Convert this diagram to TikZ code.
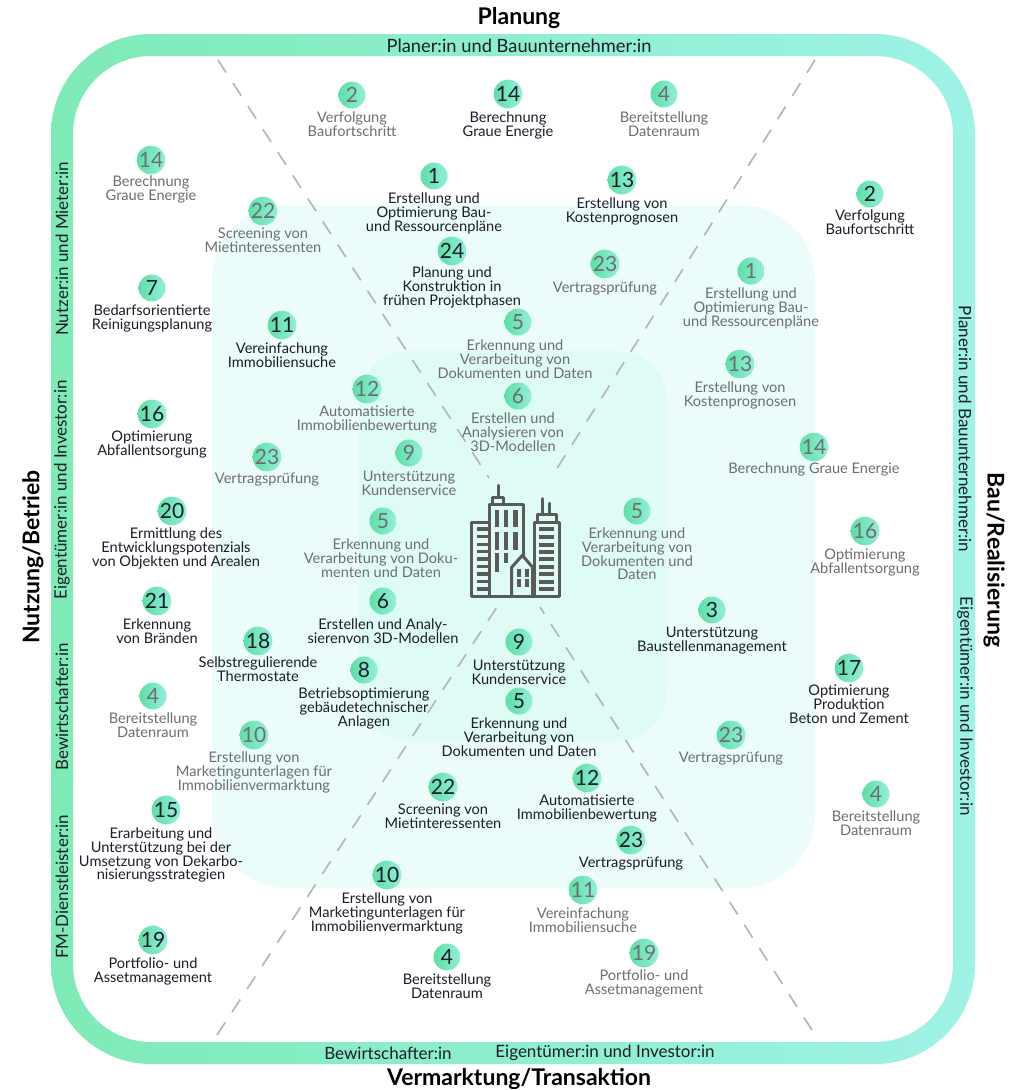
\documentclass[tikz,border=0pt]{standalone}
\usepackage{fontspec}
\setmainfont{Lato}
\definecolor{inkon}{HTML}{1C1C2A}
\definecolor{inkoff}{HTML}{6E6E72}
\definecolor{bandL}{HTML}{7EEBB6}
\definecolor{bandR}{HTML}{9EF2E6}
\definecolor{discL}{HTML}{5FDEA6}
\definecolor{discR}{HTML}{92EFDA}
\definecolor{midbox}{HTML}{ECFCFA}
\definecolor{corebox}{HTML}{DFFBF5}
\definecolor{icon}{HTML}{5A5A5A}
\definecolor{dashc}{HTML}{B4B4B4}
\tikzset{
  disc/.style={circle,minimum size=27pt,inner sep=0pt,left color=discL,right color=discR,font=\fontsize{21}{21}\selectfont},
  captxt/.style={anchor=north,align=center,inner sep=0pt,font=\fontsize{14.6}{13.6}\selectfont},
  lit/.style={text=inkon},
  dim/.style={text=inkoff},
  bandtext/.style={text=inkon,inner sep=0pt,font=\fontsize{17}{17}\selectfont},
  sidetitle/.style={text=black,inner sep=0pt,font=\bfseries\fontsize{23}{23}\selectfont},
  divider/.style={dashc,line width=1.6pt,dash pattern=on 15pt off 12.5pt},
  bld/.style={icon,line width=3pt,line join=round,line cap=round},
  bldw/.style={fill=icon,draw=none},
}
% name, x, y, number, lit/dim, first-line y, text
\newcommand{\ent}[7]{%
  \node[disc,#5] (d#1) at (#2,#3) {#4};
  \node[captxt,#5] (t#1) at (#2,#6-5) {#7};
}
% name, x, y, number, lit/dim, caption x, first-line y, text
\newcommand{\entat}[8]{%
  \node[disc,#5] (d#1) at (#2,#3) {#4};
  \node[captxt,#5] (t#1) at (#6,#7-5) {#8};
}
\begin{document}
\begin{tikzpicture}[x=1pt,y=-1pt]
\useasboundingbox (0,0) rectangle (1015,1090);
\fill[white] (0,0) rectangle (1015,1090);
% boxes
\fill[midbox,rounded corners=75pt] (212,205) rectangle (815,888);
\fill[corebox,rounded corners=50pt] (359,351) rectangle (667,741);
% ring
\shade[even odd rule,left color=bandL,right color=bandR]
  [rounded corners=100pt] (51,34) rectangle (975,1064)
  [rounded corners=78pt] (73,56) rectangle (953,1042);
% dividers
\coordinate (a1) at (218,60); \coordinate (a2) at (489,478);
\coordinate (b1) at (815,60); \coordinate (b2) at (551,478);
\coordinate (c1) at (217,1035); \coordinate (c2) at (497,607);
\coordinate (e1) at (812,1030); \coordinate (e2) at (540,607);
\draw[divider] (a1) -- (a2);
\draw[divider] (b1) -- (b2);
\draw[divider] (c1) -- (c2);
\draw[divider] (e1) -- (e2);
% titles
\node[sidetitle] (tp) at (519,18) {Planung};
\node[sidetitle] (tv) at (519,1079) {Vermarktung/Transaktion};
\node[sidetitle,rotate=90] (tn) at (33,557) {Nutzung/Betrieb};
\node[sidetitle,rotate=-90] (tb) at (994,560) {Bau/Realisierung};
% band labels
\node[bandtext,font=\fontsize{18.3}{18}\selectfont] (b1t) at (519,46) {Planer:in und Bauunternehmer:in};
\node[bandtext] (b2t) at (388,1053) {Bewirtschafter:in};
\node[bandtext] (b3t) at (605,1053) {Eigentümer:in und Investor:in};
\node[bandtext,rotate=90] (b4t) at (62,249) {Nutzer:in und Mieter:in};
\node[bandtext,rotate=90] (b5t) at (62,490) {Eigentümer:in und Investor:in};
\node[bandtext,rotate=90] (b6t) at (62,707) {Bewirtschafter:in};
\node[bandtext,rotate=90] (b7t) at (62,887) {FM-Dienstleister:in};
\node[bandtext,rotate=-90] (b8t) at (965,429) {Planer:in und Bauunternehmer:in};
\node[bandtext,rotate=-90] (b9t) at (965,706) {Eigentümer:in und Investor:in};
% entries
\ent{a}{352}{95}{2}{dim}{117}{Verfolgung\\Baufortschritt}
\ent{b}{508}{94}{14}{lit}{117}{Berechnung\\Graue Energie}
\ent{c}{664}{94}{4}{dim}{117}{Bereitstellung\\Datenraum}
\ent{e}{434}{176}{1}{lit}{198}{Erstellung und\\Optimierung Bau-\\und Ressourcenpläne}
\ent{f}{622}{180}{13}{lit}{203}{Erstellung von\\Kostenprognosen}
\ent{g}{151}{160}{14}{dim}{181}{Berechnung\\Graue Energie}
\ent{h}{263}{211}{22}{dim}{233}{Screening von\\Mietinteressenten}
\ent{i}{452}{251}{24}{lit}{272}{Planung und\\Konstruktion in\\frühen Projektphasen}
\ent{j}{605}{264}{23}{dim}{287}{Vertragsprüfung}
\ent{k}{870}{194}{2}{lit}{215}{Verfolgung\\Baufortschritt}
\ent{l}{751}{271}{1}{dim}{293}{Erstellung und\\Optimierung Bau-\\und Ressourcenpläne}
\ent{m}{152}{288}{7}{lit}{310}{Bedarfsorientierte\\Reinigungsplanung}
\ent{n}{282}{325}{11}{lit}{348}{Vereinfachung\\Immobiliensuche}
\entat{o}{518}{322}{5}{dim}{515}{345}{Erkennung und\\Verarbeitung von\\Dokumenten und Daten}
\ent{p}{367}{389}{12}{dim}{411}{Automatisierte\\Immobilienbewertung}
\ent{q}{740}{364}{13}{dim}{387}{Erstellung von\\Kostenprognosen}
\entat{r}{518}{396}{6}{dim}{513}{418}{Erstellen und\\Analysieren von\\3D-Modellen}
\ent{s}{152}{414}{16}{lit}{436}{Optimierung\\Abfallentsorgung}
\ent{u}{409}{453}{9}{dim}{476}{Unterstützung\\Kundenservice}
\ent{v}{267}{457}{23}{dim}{478}{Vertragsprüfung}
\ent{w}{814}{447}{14}{dim}{468}{Berechnung Graue Energie}
\entat{x}{172}{511}{20}{lit}{176}{533}{Ermittlung des\\Entwicklungspotenzials\\von Objekten und Arealen}
\entat{y}{383}{521}{5}{dim}{381}{544}{Erkennung und\\Verarbeitung von Doku-\\menten und Daten}
\ent{z}{637}{511}{5}{dim}{533}{Erkennung und\\Verarbeitung von\\Dokumenten und\\Daten}
\ent{aa}{865}{531}{16}{dim}{554}{Optimierung\\Abfallentsorgung}
\ent{ab}{157}{601}{21}{lit}{624}{Erkennung\\von Bränden}
\ent{ac}{383}{601}{6}{lit}{624}{Erstellen und Analy-\\sierenvon 3D-Modellen}
\ent{ad}{712}{610}{3}{lit}{632}{Unterstützung\\Baustellenmanagement}
\ent{ae}{258}{641}{18}{lit}{662}{Selbstregulierende\\Thermostate}
\ent{af}{519}{642}{9}{lit}{665}{Unterstützung\\Kundenservice}
\ent{ag}{364}{670}{8}{lit}{693}{Betriebsoptimierung\\gebäudetechnischer\\Anlagen}
\ent{ah}{849}{668}{17}{lit}{690}{Optimierung\\Produktion\\Beton und Zement}
\ent{ai}{153}{696}{4}{dim}{718}{Bereitstellung\\Datenraum}
\ent{aj}{519}{701}{5}{lit}{723}{Erkennung und\\Verarbeitung von\\Dokumenten und Daten}
\ent{ak}{254}{735}{10}{dim}{757}{Erstellung von\\Marketingunterlagen für\\Immobilienvermarktung}
\ent{al}{731}{735}{23}{dim}{757}{Vertragsprüfung}
\ent{am}{443}{787}{22}{lit}{809}{Screening von\\Mietinteressenten}
\ent{an}{587}{778}{12}{lit}{800}{Automatisierte\\Immobilienbewertung}
\ent{ao}{876}{794}{4}{dim}{816}{Bereitstellung\\Datenraum}
\entat{ap}{166}{810}{15}{lit}{161}{833}{Erarbeitung und\\Unterstützung bei der\\Umsetzung von Dekarbo-\\nisierungsstrategien}
\ent{aq}{631}{840}{23}{lit}{862}{Vertragsprüfung}
\ent{ar}{387}{875}{10}{lit}{898}{Erstellung von\\Marketingunterlagen für\\Immobilienvermarktung}
\ent{as}{583}{890}{11}{dim}{913}{Vereinfachung\\Immobiliensuche}
\ent{at}{153}{940}{19}{lit}{963}{Portfolio- und\\Assetmanagement}
\ent{au}{447}{957}{4}{lit}{979}{Bereitstellung\\Datenraum}
\ent{av}{644}{953}{19}{dim}{975}{Portfolio- und\\Assetmanagement}
% building icon
\begin{scope}[shift={(440,470)},x=0.3333pt,y=-0.3333pt]
  \draw[bld] (150,380) -- (150,158) -- (95,158) -- (95,380) -- (358,380) -- (358,158) -- (284,158) -- (284,380);
  \draw[bld] (150,158) -- (150,102) -- (250,102) -- (250,262);
  \draw[bld] (158,102) -- (158,82) -- (192,82) -- (192,102);
  \draw[bld] (177,82) -- (177,46);
  \draw[bld] (292,158) -- (292,134) -- (350,134) -- (350,158);
  \draw[bld] (308,134) -- (308,86);
  \draw[bld] (330,134) -- (330,100);
  \draw[bld] (215,380) -- (215,292) -- (247,256) -- (278,292) -- (278,380);
  \foreach \wx in {165,192,220} {
    \fill[bldw] (\wx,120) rectangle ++(13,50);
    \fill[bldw] (\wx,185) rectangle ++(13,54);
  }
  \fill[bldw] (165,250) rectangle ++(13,56);
  \fill[bldw] (192,250) rectangle ++(13,30);
  \foreach \wy in {172,195,218,240,262,285,307,330,352} {
    \fill[bldw] (110,\wy) rectangle ++(35,10);
    \fill[bldw] (297,\wy) rectangle ++(46,12);
  }
  \foreach \wx/\wy in {232/296,254/296,232/328,254/328} {
    \fill[bldw] (\wx,\wy) rectangle ++(12,24);
  }
\end{scope}
\end{tikzpicture}
\end{document}
